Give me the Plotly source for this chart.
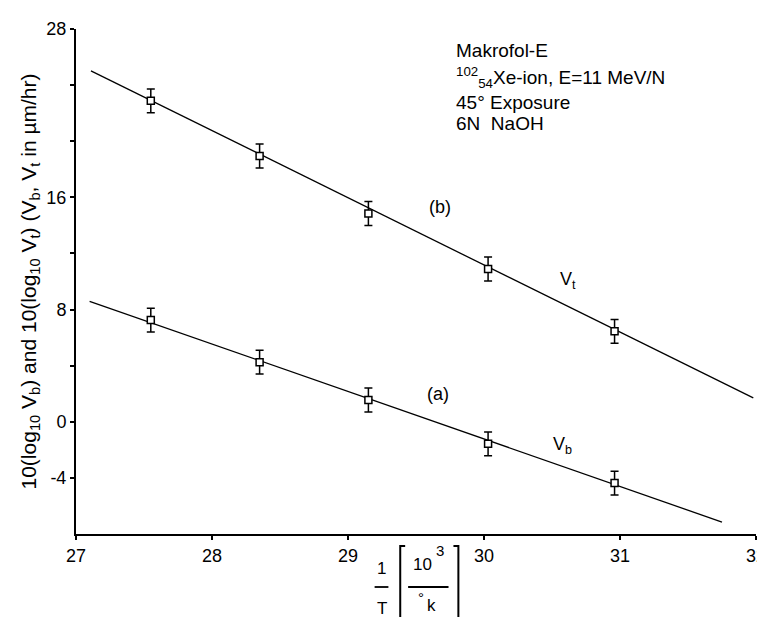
import plotly.graph_objects as go

# ---- data ----
inv_T = [27.55, 28.35, 29.15, 30.03, 30.96]          # 1/T [10^3/°K]
log_vt = [22.88, 18.95, 14.85, 10.89, 6.45]          # 10 log10 Vt  (b)
log_vb = [7.25, 4.25, 1.55, -1.57, -4.37]            # 10 log10 Vb  (a)
err = [0.85, 0.85, 0.85, 0.85, 0.85]

fit_vt_x = [27.11, 31.98]
fit_vt_y = [25.02, 1.70]
fit_vb_x = [27.10, 31.75]
fit_vb_y = [8.59, -7.15]

x_ticks = [27, 28, 29, 30, 31, 32]
y_ticks = [-4, 0, 4, 8, 12, 16, 20, 24, 28]
y_ticktext = ["-4", "0", "", "8", "", "16", "", "", "28"]

W, H = 765, 617
L, R, T, B = 68, 7, 21, 91
FONT = "Liberation Sans, Arial, sans-serif"

fig = go.Figure()
for fx, fy in [(fit_vt_x, fit_vt_y), (fit_vb_x, fit_vb_y)]:
    fig.add_trace(go.Scatter(x=fx, y=fy, mode="lines",
                             line=dict(color="black", width=1.3),
                             showlegend=False, hoverinfo="skip"))
for ys in [log_vt, log_vb]:
    fig.add_trace(go.Scatter(
        x=inv_T, y=ys, mode="markers",
        marker=dict(symbol="square", size=7, color="white",
                    line=dict(color="black", width=1.5)),
        error_y=dict(type="data", array=err, visible=True,
                     color="black", thickness=1.5, width=4),
        showlegend=False))

pw = W - L - R
ph = H - T - B


def px(x):
    return (x - L) / pw


def py(y):
    return (H - B - y) / ph


ann = []
# labels on the lines
for x, y, t in [(29.68, 15.3, "(b)"), (30.62, 10.1, "V<sub>t</sub>"),
                (29.66, 2.0, "(a)"), (30.58, -1.7, "V<sub>b</sub>")]:
    ann.append(dict(x=x, y=y, xref="x", yref="y", text=t, showarrow=False,
                    font=dict(size=18, color="black", family=FONT)))

# info block
info = ["Makrofol-E",
        "<sup>102</sup><sub>54</sub>Xe-ion, E=11 MeV/N",
        "45° Exposure",
        "6N  NaOH"]
info_y = [42, 70, 94, 116]
for t, yy in zip(info, info_y):
    ann.append(dict(x=px(452), y=py(yy), xref="paper", yref="paper",
                    text=t, showarrow=False, xanchor="left", yanchor="middle",
                    font=dict(size=19, color="black", family=FONT)))

# x-axis title pieces
for x, y, t, s in [(378, 560, "1", 17), (378, 600, "T", 17),
                   (420, 556, "10", 17), (437, 542, "3", 15),
                   (418, 589, "°", 15), (429, 597, "k", 17)]:
    ann.append(dict(x=px(x), y=py(y), xref="paper", yref="paper", text=t,
                    showarrow=False, xanchor="center", yanchor="middle",
                    font=dict(size=s, color="black", family=FONT)))

shapes = [
    dict(type="line", xref="paper", yref="paper", x0=px(371), x1=px(385),
         y0=py(579), y1=py(579), line=dict(color="black", width=1.8)),
    dict(type="line", xref="paper", yref="paper", x0=px(405), x1=px(446),
         y0=py(579), y1=py(579), line=dict(color="black", width=1.8)),
    dict(type="path", xref="paper", yref="paper",
         path=f"M {px(402)},{py(538)} L {px(397)},{py(538)} L {px(397)},{py(617)}",
         line=dict(color="black", width=2)),
    dict(type="path", xref="paper", yref="paper",
         path=f"M {px(451)},{py(538)} L {px(456)},{py(538)} L {px(456)},{py(617)}",
         line=dict(color="black", width=2)),
]

fig.update_layout(
    width=W, height=H,
    margin=dict(l=L, r=R, t=T, b=B, pad=0),
    paper_bgcolor="white", plot_bgcolor="white",
    font=dict(family=FONT, size=17, color="black"),
    annotations=ann, shapes=shapes,
    xaxis=dict(range=[27, 32], tickvals=x_ticks, ticks="outside", ticklen=4,
               tickwidth=1.5, tickcolor="black", showline=True, linewidth=2,
               linecolor="black", showgrid=False, zeroline=False,
               ticklabeloverflow="allow",
               tickfont=dict(size=18, family=FONT, color="black")),
    yaxis=dict(range=[-8, 28], tickvals=y_ticks, ticktext=y_ticktext,
               ticks="outside", ticklen=4, tickwidth=1.5, tickcolor="black",
               showline=True, linewidth=2, linecolor="black", showgrid=False,
               zeroline=False, ticklabeloverflow="allow",
               tickfont=dict(size=18, family=FONT, color="black"),
               title=dict(text="10(log<sub>10</sub> V<sub>b</sub>) and 10(log<sub>10</sub> V<sub>t</sub>)"
                                " (V<sub>b</sub>, V<sub>t</sub> in µm/hr)",
                          font=dict(size=21, family=FONT, color="black"),
                          standoff=4)),
)

fig.write_html("out.html")
